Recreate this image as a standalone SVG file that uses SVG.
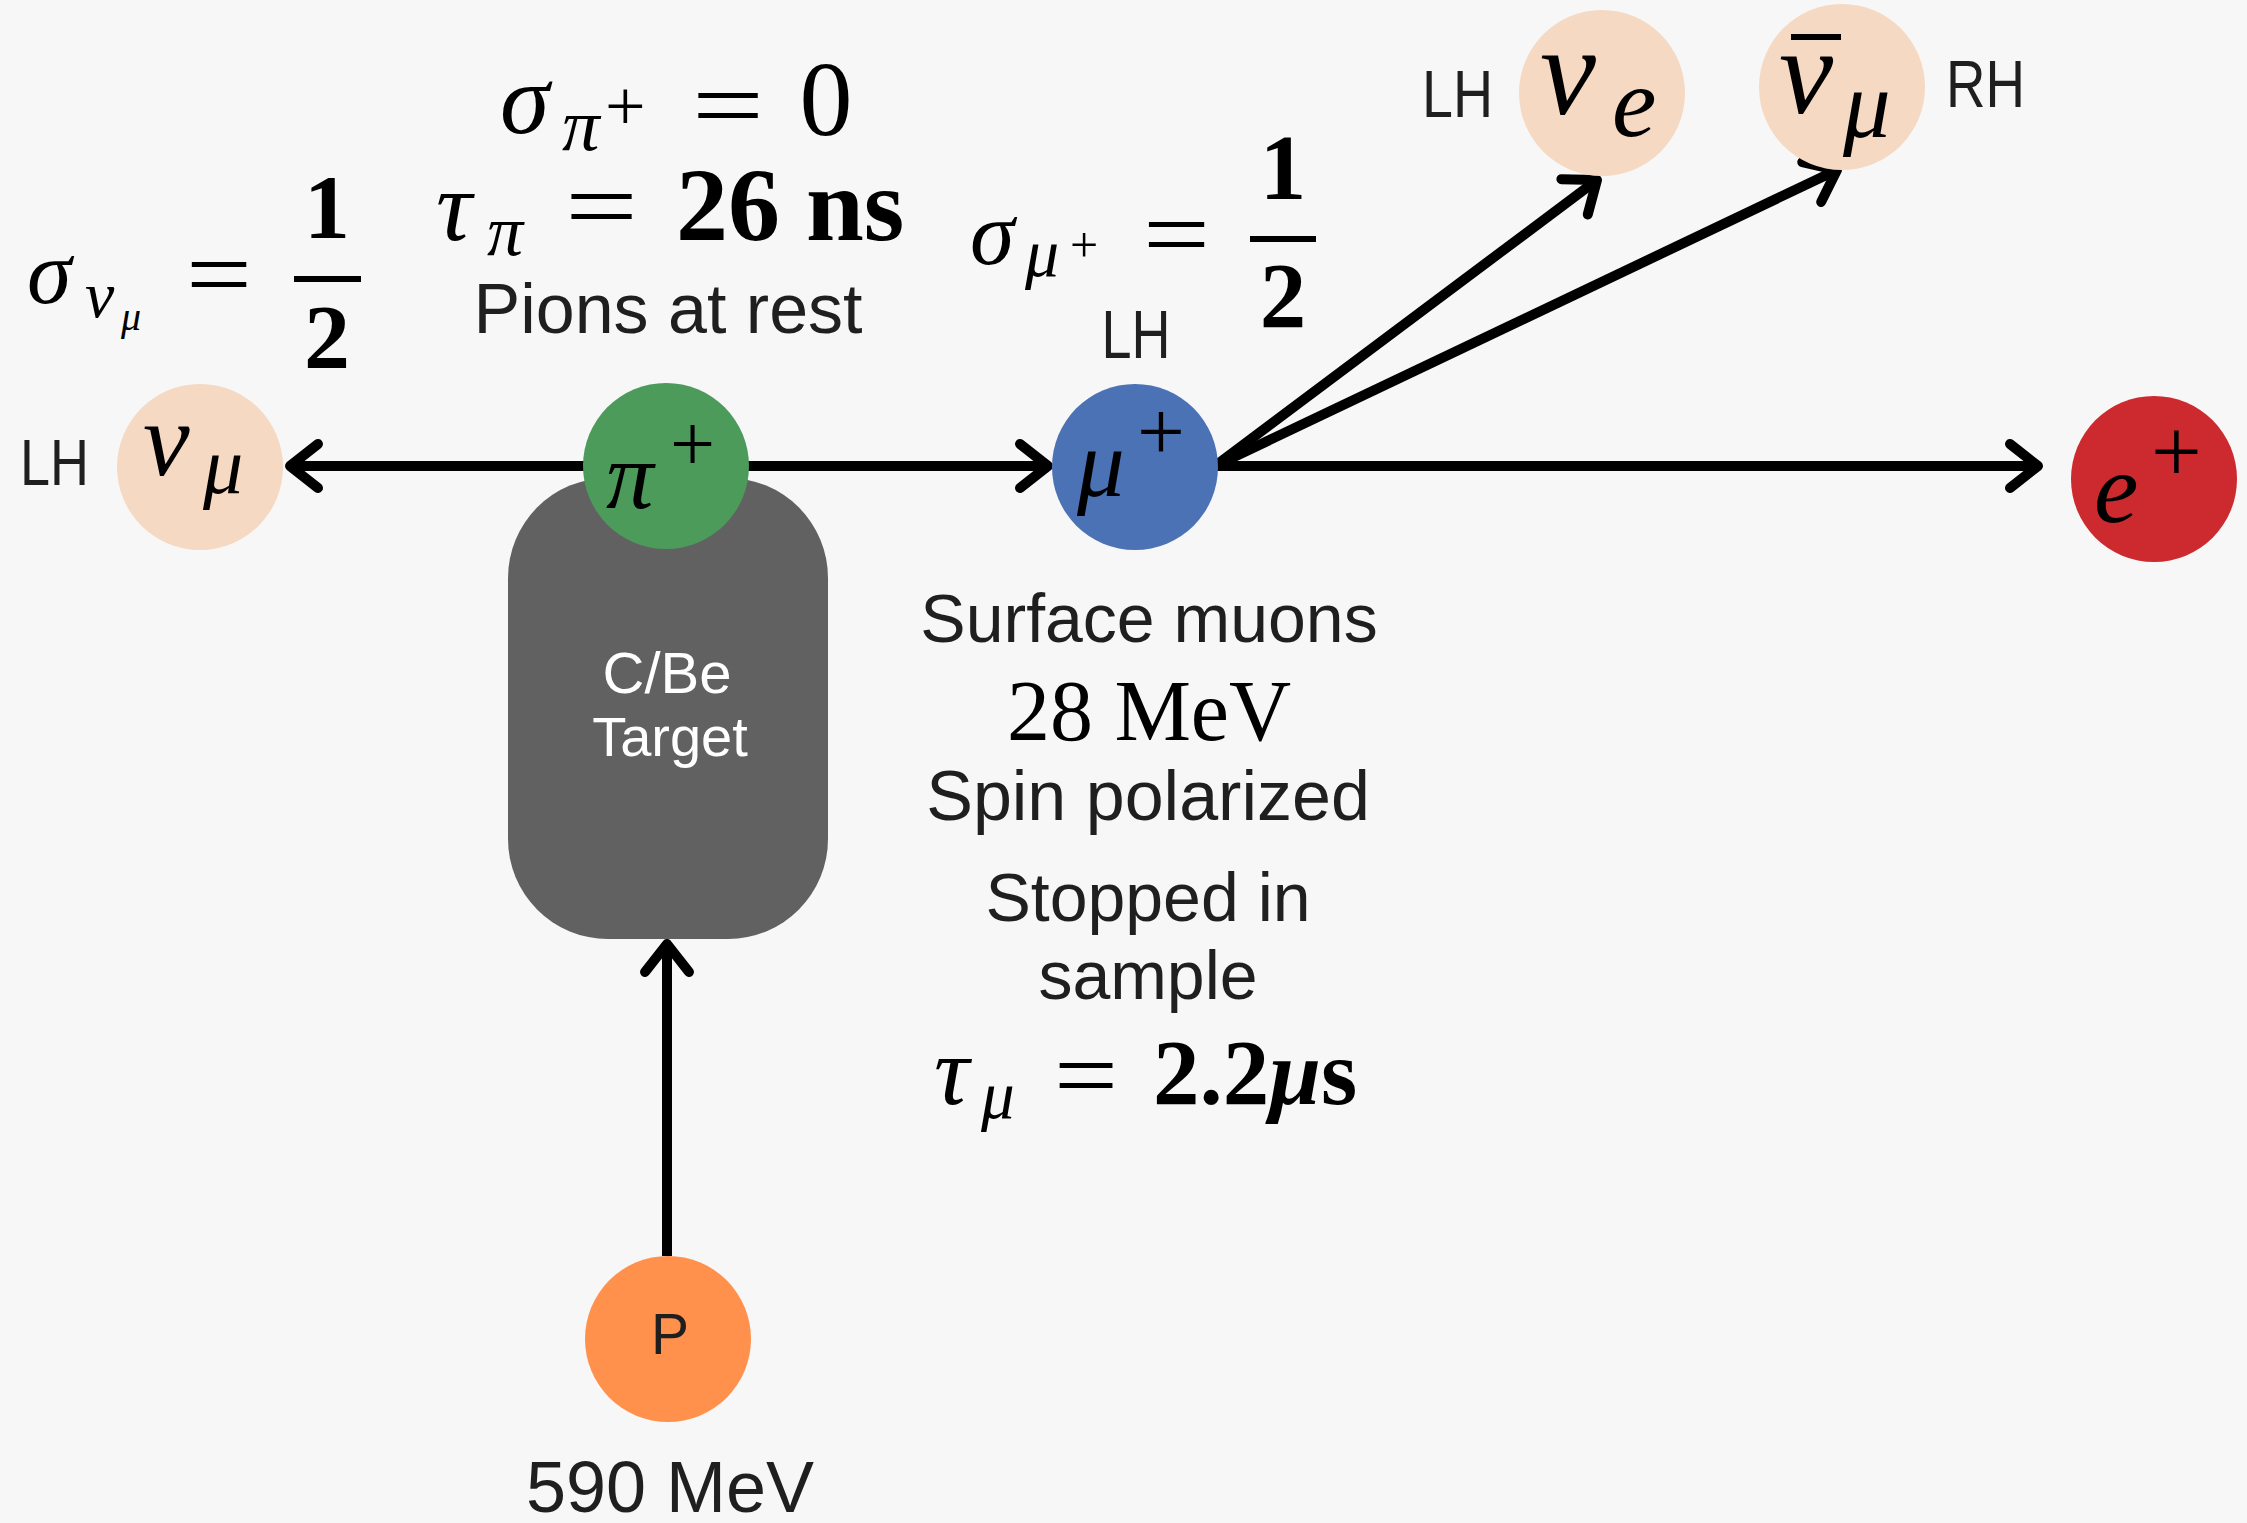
<svg xmlns="http://www.w3.org/2000/svg" width="2247" height="1523" viewBox="0 0 2247 1523">
<style>
.s{font-family:"Liberation Sans",Arial,sans-serif;fill:#1f1f1f}
.m{font-family:"Liberation Serif","DejaVu Serif",serif;font-style:italic;fill:#000}
.r{font-family:"Liberation Serif","DejaVu Serif",serif;fill:#000}
.eq{font-family:"Liberation Serif","DejaVu Serif",serif;fill:#000;font-size:100px}
.b{font-weight:bold}
.c{text-anchor:middle}
.ln{stroke:#000;stroke-width:6;fill:none}
.conn{stroke:#000;stroke-width:10;fill:none;marker-end:url(#arr)}
</style>
<defs>
<marker id="arr" markerUnits="userSpaceOnUse" viewBox="-40 -30 50 60" markerWidth="50" markerHeight="60" refX="0" refY="0" orient="auto">
<path d="M-28,-22 L0,0 L-28,22" stroke="#000" stroke-width="10" fill="none" stroke-linecap="round" stroke-linejoin="round"/>
</marker>
</defs>
<rect width="2247" height="1523" fill="#f7f7f7"/>

<g id="connectors">
<line class="conn" x1="666" y1="466" x2="290" y2="466"/>
<line class="conn" x1="666" y1="466" x2="1048" y2="466"/>
<line class="conn" x1="1215" y1="466" x2="2038" y2="466"/>
<line class="conn" x1="1215" y1="466" x2="1597" y2="180"/>
<line class="conn" x1="1215" y1="466" x2="1837" y2="170"/>
<line class="conn" x1="667" y1="1256" x2="667" y2="944"/>
</g>

<g id="target">
<rect x="508" y="478" width="320" height="461" rx="100" ry="100" fill="#616161"/>
<text class="s c" x="667" y="693" font-size="58" style="fill:#fff">C/Be</text>
<text class="s c" x="670" y="756" font-size="56" style="fill:#fff">Target</text>
</g>

<g id="nu_mu">
<circle cx="200" cy="467" r="83" fill="#f5d9c3"/>
<text class="m" x="143" y="475" font-size="105">ν</text>
<text class="m" x="203" y="493" font-size="80">μ</text>
<text class="s" x="20" y="485" font-size="65" textLength="69" lengthAdjust="spacingAndGlyphs">LH</text>
</g>

<g id="pi_plus">
<circle cx="666" cy="466" r="83" fill="#4c9b5b"/>
<text class="m" x="606" y="508" font-size="95">π</text>
<text class="r" x="670" y="471" font-size="80">+</text>
</g>

<g id="mu_plus">
<circle cx="1135" cy="467" r="83" fill="#4a72b5"/>
<text class="m" x="1077" y="496" font-size="95">μ</text>
<text class="r" x="1137" y="460" font-size="85">+</text>
<text class="s c" x="1136" y="358" font-size="68" textLength="69" lengthAdjust="spacingAndGlyphs">LH</text>
</g>

<g id="e_plus">
<circle cx="2154" cy="479" r="83" fill="#cc2a2e"/>
<text class="m" x="2094" y="522" font-size="100">e</text>
<text class="r" x="2151" y="482" font-size="90">+</text>
</g>

<g id="nu_e">
<circle cx="1602" cy="93" r="83" fill="#f5d9c3"/>
<text class="m" x="1540" y="114" font-size="126">ν</text>
<text class="m" x="1612" y="136" font-size="100">e</text>
<text class="s" x="1422" y="117" font-size="66" textLength="71" lengthAdjust="spacingAndGlyphs">LH</text>
</g>

<g id="nubar_mu">
<circle cx="1842" cy="87" r="83" fill="#f5d9c3"/>
<rect x="1791" y="34" width="50" height="6" fill="#000"/>
<text class="m" x="1779" y="113" font-size="122">ν</text>
<text class="m" x="1843" y="137" font-size="95">μ</text>
<text class="s" x="1946" y="107" font-size="66" textLength="79" lengthAdjust="spacingAndGlyphs">RH</text>
</g>

<g id="proton">
<circle cx="668" cy="1339" r="83" fill="#ff914d"/>
<text class="s c" x="670" y="1354" font-size="57">P</text>
<text class="s c" x="670" y="1512" font-size="72">590 MeV</text>
</g>

<g id="pion_info">
<text class="m" x="500" y="133" font-size="100">σ</text>
<text class="m" x="562" y="150" font-size="75">π</text>
<text class="r" x="605" y="130" font-size="72">+</text>
<text class="eq" x="692" y="139" textLength="72" lengthAdjust="spacingAndGlyphs">=</text>
<text class="r c" x="826" y="135" font-size="106">0</text>
<text class="m" x="436" y="240" font-size="100">τ</text>
<text class="m" x="487" y="255" font-size="72">π</text>
<text class="eq" x="565" y="240" textLength="73" lengthAdjust="spacingAndGlyphs">=</text>
<text class="r b" x="676" y="240" font-size="104">26 ns</text>
<text class="s c" x="668" y="333" font-size="70">Pions at rest</text>
</g>

<g id="nu_mu_spin">
<text class="m" x="27" y="303" font-size="90">σ</text>
<text class="m" x="85" y="317" font-size="66">ν</text>
<text class="m" x="121" y="330" font-size="40">μ</text>
<text class="eq" x="186" y="308" textLength="66" lengthAdjust="spacingAndGlyphs">=</text>
<line class="ln" x1="294" y1="279" x2="361" y2="279"/>
<text class="r b c" x="327" y="238" font-size="92">1</text>
<text class="r b c" x="327" y="368" font-size="92">2</text>
</g>

<g id="mu_spin">
<text class="m" x="970" y="264" font-size="90">σ</text>
<text class="m" x="1025" y="276" font-size="68">μ</text>
<text class="r" x="1070" y="262" font-size="50">+</text>
<text class="eq" x="1143" y="268" textLength="67" lengthAdjust="spacingAndGlyphs">=</text>
<line class="ln" x1="1250" y1="239" x2="1316" y2="239"/>
<text class="r b c" x="1283" y="199" font-size="93">1</text>
<text class="r b c" x="1283" y="327" font-size="93">2</text>
</g>

<g id="muon_info">
<text class="s c" x="1149" y="642" font-size="68">Surface muons</text>
<text class="r c" x="1149" y="740" font-size="86">28 MeV</text>
<text class="s c" x="1148" y="820" font-size="70">Spin polarized</text>
<text class="s c" x="1148" y="921" font-size="68">Stopped in</text>
<text class="s c" x="1148" y="999" font-size="68">sample</text>
<text class="m" x="934" y="1104" font-size="98">τ</text>
<text class="m" x="981" y="1118" font-size="67">μ</text>
<text class="eq" x="1054" y="1109" textLength="64" lengthAdjust="spacingAndGlyphs">=</text>
<text class="r b" x="1153" y="1104" font-size="93">2.2<tspan font-style="italic">μ</tspan>s</text>
</g>
</svg>
